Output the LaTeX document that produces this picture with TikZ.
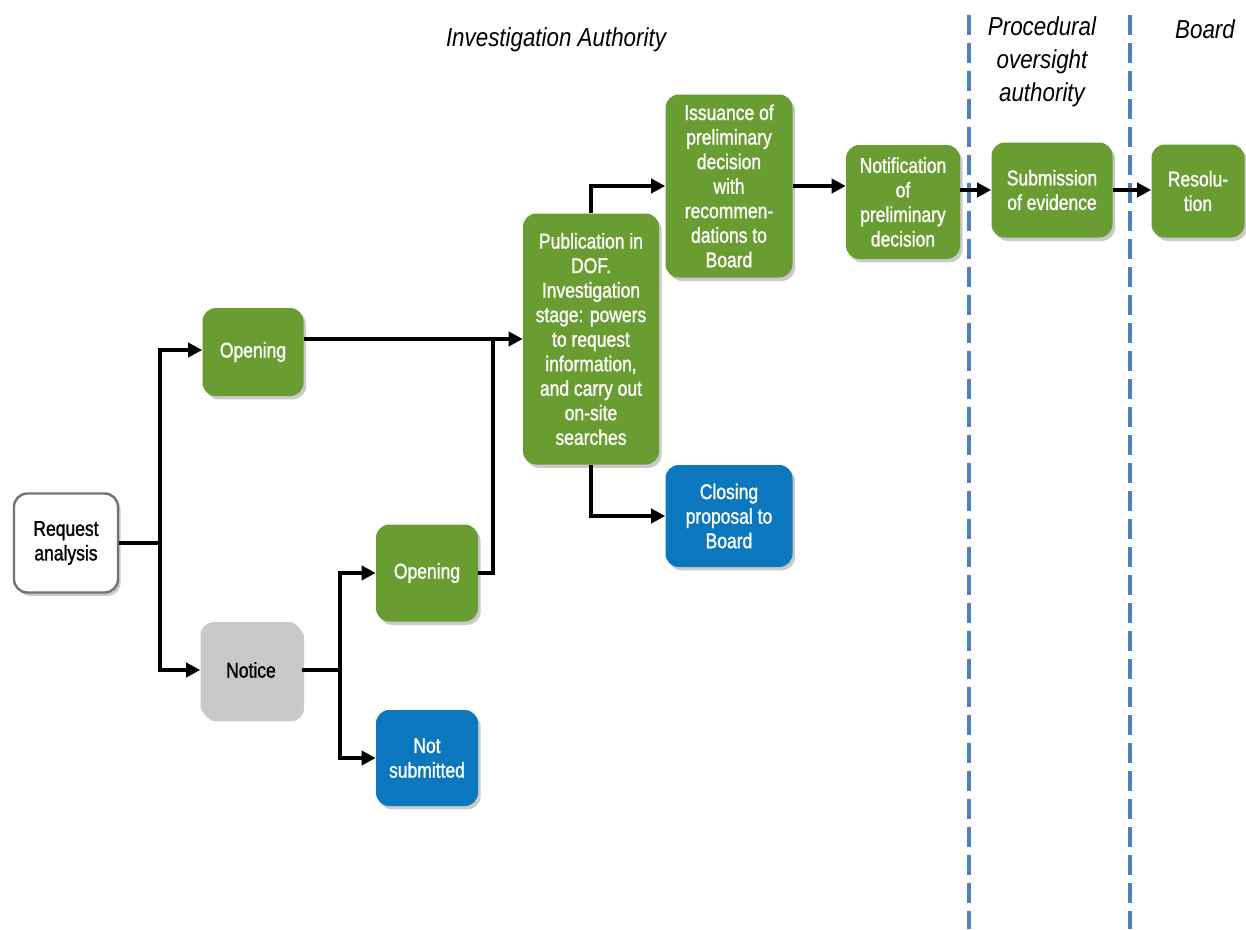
\documentclass[tikz,border=0pt]{standalone}
\usepackage{fontspec}
\newfontfamily\boxfont[FakeStretch=0.82,FakeBold=1.2]{Liberation Sans}
\newfontfamily\hdrfont[FakeStretch=0.86]{Liberation Sans}
\usetikzlibrary{arrows.meta,shadows}
\definecolor{boxgreen}{HTML}{6A9D31}
\definecolor{boxblue}{HTML}{0A77BE}
\definecolor{boxgray}{HTML}{C8C8C8}
\definecolor{divblue}{HTML}{4F81C0}
\tikzset{
  base/.style={rounded corners=10pt, inner sep=2pt, align=center,
    font=\boxfont\fontsize{16}{18.4}\selectfont,
    drop shadow={shadow xshift=2pt, shadow yshift=-2.5pt, opacity=0.35, fill=black!60}},
  gbox/.style={base, fill=boxgreen, text=white},
  bbox/.style={base, fill=boxblue, text=white},
  graybox/.style={base, fill=boxgray, text=black},
  wbox/.style={base, fill=white, draw=black!55, line width=1.8pt, text=black},
  conn/.style={line width=3pt, draw=black},
  arr/.style={conn, -{Triangle[length=10.5pt,width=10.5pt]}},
  hdr/.style={font=\hdrfont\itshape\fontsize{19.5}{24.75}\selectfont, align=center, inner sep=0pt},
  divider/.style={draw=divblue, line width=2.6pt, dash pattern=on 15pt off 6pt}
}
\begin{document}
\begin{tikzpicture}[x=0.75pt,y=-0.75pt]
\useasboundingbox (0,0) rectangle (1246,929);
% dividers
\coordinate (d1t) at (969,15); \coordinate (d1b) at (969,929);
\coordinate (d2t) at (1130,15); \coordinate (d2b) at (1130,929);
\draw[divider] (d1t) -- (d1b);
\draw[divider] (d2t) -- (d2b);
% headers
\node[hdr] (h1) at (556,40) {Investigation Authority};
\node[hdr] (h2) at (1042,62) {Procedural\\oversight\\authority};
\node[hdr] (h3) at (1205,29) {Board};
% boxes
\node[wbox, minimum width=78pt, minimum height=74.25pt] (req) at (66,543) {Request\\analysis};
\node[gbox, minimum width=75.75pt, minimum height=66pt] (op1) at (253,352) {Opening};
\node[graybox, minimum width=75.75pt, minimum height=72pt] (notice) at (251,670) {Notice};
\node[gbox, minimum width=76.5pt, minimum height=72.75pt] (op2) at (427,573) {Opening};
\node[bbox, minimum width=76.5pt, minimum height=72pt] (ns) at (427,758) {Not\\submitted};
\node[gbox, minimum width=102pt, minimum height=188.25pt] (pub) at (591,339) {Publication in\\DOF.\\Investigation\\stage: powers\\to request\\information,\\and carry out\\on-site\\searches};
\node[gbox, minimum width=95.25pt, minimum height=137.25pt] (iss) at (729,186) {Issuance of\\preliminary\\decision\\with\\recommen-\\dations to\\Board};
\node[bbox, minimum width=95.25pt, minimum height=76.5pt] (clo) at (729,516) {Closing\\proposal to\\Board};
\node[gbox, minimum width=85.5pt, minimum height=85.5pt] (notif) at (903,202) {Notification\\of\\preliminary\\decision};
\node[gbox, minimum width=90.75pt, minimum height=71.25pt] (sub) at (1052,190) {Submission\\of evidence};
\node[gbox, minimum width=69.75pt, minimum height=69.75pt] (res) at (1198,191) {Resolu-\\tion};
% junctions
\coordinate (j1) at (160,543);
\coordinate (j2) at (340,670);
\coordinate (j3) at (493,573);
% connectors
\draw[conn] (req.east) -- (j1);
\draw[arr] (j1) |- (op1.west |- 0,350);
\draw[arr] (j1) |- (notice.west);
\draw[arr] (op1.east |- pub.west) -- (pub.west);
\draw[conn] (op2.east) -- (j3) -- (j3 |- pub.west);
\draw[conn] (notice.east) -- (j2);
\draw[arr] (j2) |- (op2.west);
\draw[arr] (j2) |- (ns.west);
\draw[arr] (pub.north) |- (iss.west);
\draw[arr] (pub.south) |- (clo.west);
\draw[arr] (iss.east) -- (notif.west |- iss.east);
\draw[arr] (notif.east |- sub.west) -- (sub.west);
\draw[arr] (sub.east) -- (res.west |- sub.east);
\end{tikzpicture}
\end{document}
